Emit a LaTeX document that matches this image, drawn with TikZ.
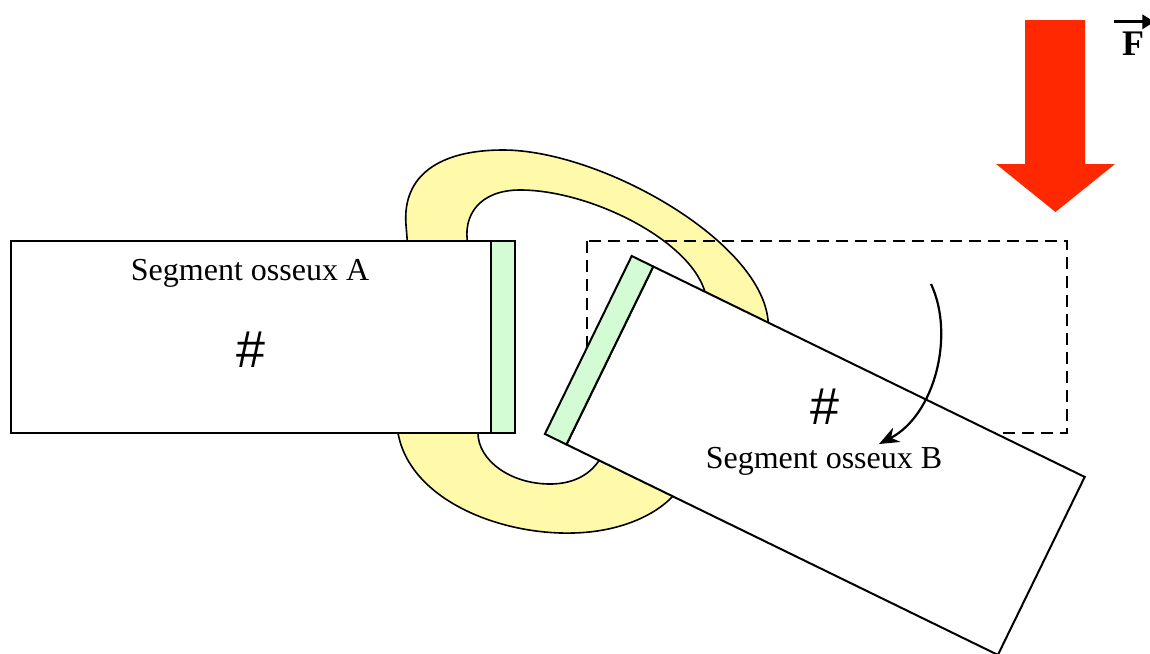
\documentclass[tikz,border=0pt]{standalone}
\usepackage{fontspec}
\setmainfont{Liberation Serif}
\newfontfamily\hashfont{Liberation Sans}
\usetikzlibrary{arrows.meta}
\definecolor{ligcolor}{RGB}{255,250,170}
\definecolor{cartcolor}{RGB}{212,252,212}
\definecolor{forcecolor}{RGB}{255,40,0}
\tikzset{
    bone/.style={draw=black, fill=white, line width=1pt},
    cartilage/.style={draw=black, fill=cartcolor, line width=1pt},
    ligament/.style={draw=black, fill=ligcolor, line width=0.8pt},
    ghost/.style={draw=black, dash pattern=on 6pt off 3.5pt, line width=0.8pt},
    bonetext/.style={font=\fontsize{16}{19}\selectfont, inner sep=0pt},
    hashtext/.style={font=\hashfont\fontsize{26}{30}\selectfont, inner sep=0pt},
    arrow/.style={-{Stealth[length=10pt, width=8pt]}, line width=1.1pt}
}

\begin{document}
\begin{tikzpicture}[x=0.5pt, y=-0.5pt]
    \useasboundingbox (0,0) rectangle (1150,653);

    % ligaments (ends hidden under the bones)
    \path[ligament] (409,262) -- (406,225) .. controls (402,175) and (440,150) .. (503,150)
        .. controls (600,150) and (760,240) .. (768,320) -- (772,350)
        -- (712,330) -- (705,292) .. controls (690,240) and (590,190) .. (520,190)
        .. controls (480,190) and (462,215) .. (468,245) -- (470,262) -- cycle;
    \path[ligament] (400,410) -- (398,433) .. controls (410,500) and (500,535) .. (573,533)
        .. controls (620,532) and (655,515) .. (672,497) -- (690,478)
        -- (612,445) -- (598,462) .. controls (585,480) and (565,484) .. (550,484)
        .. controls (510,484) and (478,460) .. (478,433) -- (478,410) -- cycle;

    % initial position of B
    \draw[ghost] (587,241) rectangle (1067,433);

    % segment A
    \draw[bone] (11,241) rectangle (491,433);
    \draw[cartilage] (491,241) rectangle (515,433);

    % segment B, tilted
    \begin{scope}[shift={(631.7,256)}, rotate=-26]
        \draw[bone] (24,0) rectangle (504,198);
        \draw[cartilage] (0,0) rectangle (24,198);
    \end{scope}

    \node[bonetext] (txtA) at (250,273) {Segment osseux A};
    \node[hashtext] (hashA) at (251,350) {\#};
    \node[hashtext] (hashB) at (825,407) {\#};
    \node[bonetext] (txtB) at (824,461) {Segment osseux B};

    \coordinate (rotS) at (931,284);
    \coordinate (rotE) at (879,444);
    \draw[arrow] (rotS) .. controls (955,335) and (935,415) .. (rotE);

    % applied force
    \fill[forcecolor] (1025,20) -- (1085,20) -- (1085,164) -- (1115,164) -- (1055.5,212)
        -- (996,164) -- (1025,164) -- cycle;
    \node[font=\fontsize{18}{20}\selectfont\bfseries, inner sep=0pt] (force) at (1133,44) {F};
    \draw[-{Triangle[length=6pt, width=7pt]}, line width=1.5pt]
        ([shift={(-4pt,5pt)}]force.north west) -- ([shift={(5pt,5pt)}]force.north east);

\end{tikzpicture}
\end{document}
